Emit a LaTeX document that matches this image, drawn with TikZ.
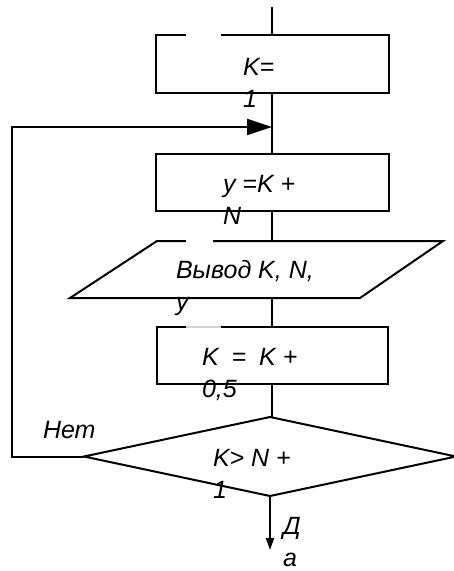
\documentclass[tikz,border=0pt]{standalone}
\usepackage{fontspec}
\setmainfont{Liberation Sans}
\usetikzlibrary{shapes.geometric,arrows.meta}
\begin{document}
\begin{tikzpicture}[x=1pt,y=-1pt,line width=2pt,
  proc/.style={draw,rectangle,minimum width=233pt,minimum height=57pt,inner sep=0pt,outer sep=0pt},
  decis/.style={draw,diamond,minimum width=372pt,minimum height=79pt,inner sep=0pt,outer sep=0pt},
  txt/.style={font=\fontsize{25}{32}\selectfont\itshape,inner sep=0pt,anchor=base west,align=left},
  gapw/.style={white,line width=3.2pt},
  bigtip/.style={-{Triangle[length=25pt,width=16pt]}},
  smalltip/.style={-{Triangle[length=12pt,width=8pt]}}]
\useasboundingbox (0,0) rectangle (454,571);
% shapes
\node[proc,minimum height=58pt] (b1) at (272,64) {};
\node[proc] (b2) at (272,182.5) {};
\draw (157,241) -- (443,241) -- (360,298) -- (70,298) -- cycle;
\coordinate (parn) at (272,241);
\coordinate (pars) at (272,298);
\node[proc,minimum width=231pt] (b3) at (272,355.5) {};
\node[decis] (dia) at (270,456.5) {};
% connectors
\coordinate (top) at (272,7);
\coordinate (corner) at (12,456.5);
\coordinate (join) at (272,127);
\draw (top) -- (b1.north);
\draw (b1.south) -- (b2.north);
\draw (b2.south) -- (parn);
\draw (pars) -- (b3.north);
\draw (b3.south) -- (b3.south |- dia.north);
\draw[bigtip] (dia.west) -- (corner) |- (join);
\coordinate (yes) at (270,550);
\draw[smalltip] (dia.south) -- (yes);
% gaps left by text boxes
\draw[gapw] (186,35) -- (221,35);
\draw[gapw] (186,241) -- (213,241);
\draw[gray!35,line width=2pt] (186,327) -- (221,327);
% texts (anchored at the baseline of the last line)
\node[txt] (t1) at (242,107) {K=\\1};
\node[txt] (t2) at (222,224) {y =K +\\N};
\node[txt] (t3) at (175,310) {Вывод K, N,\\y};
\node[txt] (t4) at (201,397) {K\hspace{6pt} = \hspace{6pt}K +\\0,5};
\node[txt] (t5) at (212,498) {K> N +\\1};
\node[txt] (t6) at (42,438) {Нет};
\node[txt] (t7) at (282,566) {Д\\а};
\end{tikzpicture}
\end{document}
